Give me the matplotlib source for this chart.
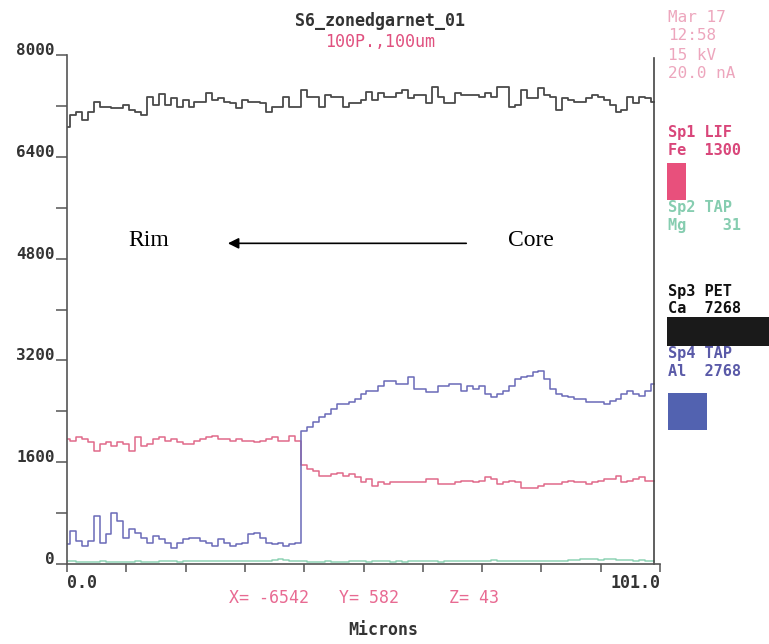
import numpy as np
import matplotlib
matplotlib.use("Agg")
import matplotlib.pyplot as plt
from matplotlib.patches import Rectangle

# ---------------- data (100 points, 0 .. 101 microns) ----------------
n_points = 100
x_end = 101.0

ca = [6872, 7056, 7108, 6977, 7108, 7266, 7187, 7187, 7161, 7161,
      7214, 7135, 7108, 7056, 7345, 7214, 7387, 7214, 7319, 7187,
      7292, 7187, 7266, 7266, 7408, 7292, 7319, 7266, 7240, 7161,
      7292, 7266, 7266, 7240, 7108, 7187, 7187, 7345, 7187, 7187,
      7450, 7345, 7345, 7187, 7371, 7345, 7345, 7187, 7240, 7240,
      7292, 7424, 7292, 7398, 7345, 7345, 7398, 7450, 7319, 7371,
      7371, 7240, 7502, 7345, 7240, 7240, 7398, 7371, 7371, 7371,
      7345, 7398, 7345, 7502, 7502, 7187, 7214, 7450, 7319, 7319,
      7476, 7371, 7345, 7135, 7319, 7292, 7266, 7266, 7319, 7371,
      7345, 7292, 7214, 7108, 7135, 7345, 7240, 7345, 7319, 7266]

fe = [1964, 1937, 1990, 1964, 1911, 1780, 1885, 1911, 1859, 1911,
      1885, 1780, 1990, 1859, 1885, 1964, 1990, 1937, 1964, 1911,
      1885, 1885, 1937, 1964, 1990, 2016, 1964, 1964, 1937, 1964,
      1937, 1937, 1911, 1937, 1964, 1990, 1937, 1937, 2016, 1937,
      1560, 1491, 1465, 1386, 1386, 1412, 1438, 1386, 1412, 1360,
      1281, 1334, 1228, 1281, 1255, 1281, 1281, 1281, 1281, 1281,
      1281, 1334, 1334, 1255, 1255, 1255, 1281, 1307, 1307, 1281,
      1307, 1360, 1334, 1255, 1281, 1307, 1281, 1202, 1202, 1202,
      1228, 1255, 1255, 1255, 1281, 1307, 1281, 1281, 1255, 1281,
      1307, 1334, 1334, 1386, 1281, 1307, 1334, 1360, 1307, 1307]

al = [310, 520, 362, 284, 362, 756, 336, 467, 808, 677,
      415, 546, 493, 415, 336, 441, 388, 336, 257, 336,
      388, 415, 415, 362, 336, 284, 388, 336, 284, 310,
      336, 467, 493, 415, 336, 310, 336, 284, 310, 336,
      2095, 2147, 2226, 2305, 2357, 2436, 2515, 2515, 2541, 2593,
      2672, 2725, 2725, 2803, 2882, 2882, 2830, 2830, 2935, 2750,
      2750, 2698, 2698, 2803, 2803, 2830, 2830, 2725, 2803, 2750,
      2803, 2672, 2620, 2672, 2725, 2803, 2909, 2935, 2960, 3015,
      3040, 2909, 2750, 2672, 2645, 2620, 2593, 2593, 2541, 2541,
      2541, 2515, 2567, 2593, 2672, 2725, 2672, 2645, 2725, 2830]

mg = [40, 45, 35, 30, 35, 30, 40, 35, 30, 35,
      30, 35, 40, 35, 30, 35, 40, 45, 40, 35,
      40, 45, 40, 45, 40, 45, 50, 45, 40, 45,
      45, 50, 45, 50, 55, 65, 75, 70, 55, 45,
      40, 35, 30, 35, 40, 35, 30, 35, 40, 45,
      40, 35, 40, 45, 40, 35, 40, 35, 40, 45,
      40, 45, 40, 35, 40, 45, 50, 45, 40, 45,
      50, 55, 65, 55, 45, 40, 45, 50, 45, 40,
      45, 50, 55, 50, 55, 60, 65, 75, 80, 75,
      70, 75, 80, 70, 65, 60, 55, 60, 55, 50]

ytick_values = [0, 1600, 3200, 4800, 6400, 8000]
ytick_labels = ["0", "1600", "3200", "4800", "6400", "8000"]
xtick_labels = ["0.0", "101.0"]

# ---------------- figure ----------------
W, H = 769, 644
fig = plt.figure(figsize=(W / 100, H / 100), dpi=100)
fig.patch.set_facecolor("white")
ax = fig.add_axes([67 / W, 80 / H, 593 / W, 509 / H])

x = np.arange(n_points) * (x_end / n_points)

ax.plot(x, mg, drawstyle="steps-mid", color="#8fd3b5", lw=1.1)
ax.plot(x, fe, drawstyle="steps-mid", color="#e06a8a", lw=1.1)
ax.plot(x, al, drawstyle="steps-mid", color="#6a6ab8", lw=1.1)
ax.plot(x, ca, drawstyle="steps-mid", color="#4a4a4a", lw=1.3)

ax.set_xlim(0, x_end)
ax.set_ylim(0, 8000)

mono = "DejaVu Sans Mono"
for s in ["top", "right"]:
    ax.spines[s].set_visible(False)
for s in ["left", "bottom"]:
    ax.spines[s].set_color("#555555")
    ax.spines[s].set_linewidth(1.2)

# right closing line at end of scan
ax.plot([100, 100], [0, 7950], color="#444444", lw=1.2, clip_on=False)

ax.set_yticks(ytick_values, labels=ytick_labels)
ax.set_yticks(np.arange(800, 8000, 1600), minor=True)
ax.tick_params(axis="y", which="both", direction="out", length=8, width=1.1,
               color="#555555", pad=1)
for lab in ax.get_yticklabels():
    lab.set_fontfamily(mono)
    lab.set_fontweight("bold")
    lab.set_fontsize(11.5)
    lab.set_color("#333333")
    lab.set_va("baseline")

xt = np.linspace(0, x_end, 11)
xl = [xtick_labels[0]] + [""] * 9 + [xtick_labels[1]]
ax.set_xticks(xt, labels=xl)
ax.tick_params(axis="x", direction="out", length=6, width=1.1,
               color="#555555", pad=1)
labs = ax.get_xticklabels()
for lab in labs:
    lab.set_fontfamily(mono)
    lab.set_fontweight("bold")
    lab.set_fontsize(12)
    lab.set_color("#333333")
labs[0].set_ha("left")
labs[-1].set_ha("right")


def T(px, py, s, color, size=12, ha="left", weight="bold", family=mono,
      va="center"):
    fig.text(px / W, 1 - py / H, s, color=color, fontsize=size, ha=ha,
             va=va, fontweight=weight, fontfamily=family)


T(380, 21, "S6_zonedgarnet_01", "#333333", ha="center")
T(380, 42, "100P.,100um", "#e0507f", ha="center", weight="normal")

info_col = "#eda6bd"
T(668, 17, "Mar 17", info_col, weight="normal", size=11.5)
T(668, 36, "12:58", info_col, weight="normal", size=11.5)
T(668, 55, "15 kV", info_col, weight="normal", size=11.5)
T(668, 73, "20.0 nA", info_col, weight="normal", size=11.5)

lg = 11
T(668, 137, "Sp1 LIF", "#d9467a", size=lg, va="baseline")
T(668, 155, "Fe  1300", "#d9467a", size=lg, va="baseline")
T(668, 212, "Sp2 TAP", "#86cdb0", size=lg, va="baseline")
T(668, 230, "Mg    31", "#86cdb0", size=lg, va="baseline")
T(668, 296, "Sp3 PET", "#111111", size=lg, va="baseline")
T(668, 313, "Ca  7268", "#111111", size=lg, va="baseline")
T(668, 358, "Sp4 TAP", "#5a5aa8", size=lg, va="baseline")
T(668, 376, "Al  2768", "#5a5aa8", size=lg, va="baseline")


def R(x0, y0, x1, y1, color):
    fig.patches.append(Rectangle((x0 / W, 1 - y1 / H), (x1 - x0) / W,
                                 (y1 - y0) / H, transform=fig.transFigure,
                                 facecolor=color, edgecolor="none"))


R(667, 163, 686, 200, "#e8507c")
R(667, 317, 769, 346, "#1a1a1a")
R(668, 393, 707, 430, "#5262b0")

T(229, 598, "X= -6542   Y= 582     Z= 43", "#e86a92", weight="normal")
T(383, 630, "Microns", "#333333", ha="center")

# Rim / Core annotation
ax.text(14.0, 5090, "Rim", fontsize=17, fontfamily="Liberation Serif",
        ha="center", va="center", color="black")
ax.text(79, 5090, "Core", fontsize=17, fontfamily="Liberation Serif",
        ha="center", va="center", color="black")
ax.annotate("", xy=(27.4, 5040), xytext=(68, 5040),
            arrowprops=dict(arrowstyle="-|>", color="black", lw=1.2,
                            mutation_scale=16, shrinkA=0, shrinkB=0))

fig.savefig("out.png", dpi=100)
